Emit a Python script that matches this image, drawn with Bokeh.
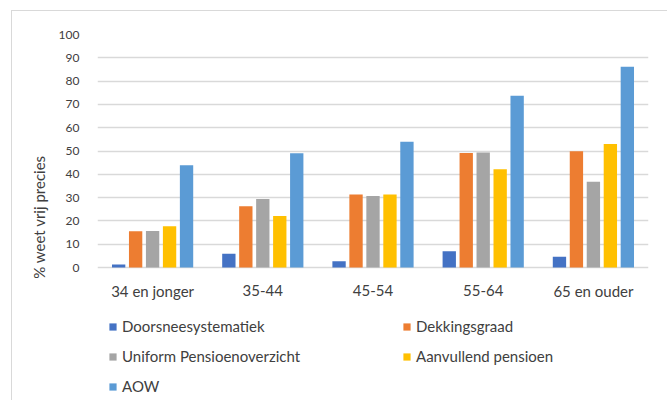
from bokeh.plotting import figure
from bokeh.models import ColumnDataSource, Legend, LegendItem, FixedTicker
from bokeh.core.properties import value
from bokeh.transform import dodge
from bokeh.embed import file_html
from bokeh.resources import INLINE

categories = ["34 en jonger", "35-44", "45-54", "55-64", "65 en ouder"]
series_names = ["Doorsneesystematiek", "Dekkingsgraad", "Uniform Pensioenoverzicht",
                "Aanvullend pensioen", "AOW"]
doorsnee = [1.3, 5.9, 2.7, 7.0, 4.6]
dekkingsgraad = [15.6, 26.3, 31.4, 49.2, 49.9]
uniform = [15.7, 29.4, 30.7, 49.4, 36.8]
aanvullend = [17.7, 22.1, 31.4, 42.2, 53.0]
aow = [43.9, 49.0, 54.0, 73.7, 86.2]
y_ticks = [0, 10, 20, 30, 40, 50, 60, 70, 80, 90, 100]

colors = ["#4472C4", "#ED7D31", "#A5A5A5", "#FFC000", "#5B9BD5"]
keys = ["doorsnee", "dekkingsgraad", "uniform", "aanvullend", "aow"]
offsets = [-0.308, -0.154, 0.0, 0.154, 0.308]

source = ColumnDataSource(dict(cat=categories, doorsnee=doorsnee, dekkingsgraad=dekkingsgraad,
                               uniform=uniform, aanvullend=aanvullend, aow=aow))

FONT = "Lato"
TXT = "#404040"

# the frame extends below zero so that the legend (drawn inside the frame) is not clipped
p = figure(x_range=categories, y_range=(-56.6, 100), width=656, height=390,
           output_backend="svg", toolbar_location=None, x_axis_location=None,
           min_border_left=85, min_border_right=20, min_border_top=23, min_border_bottom=2)
p.margin = (10, 0, 0, 11)
p.styles = {"border-top": "1px solid #d9d9d9", "border-left": "1px solid #d9d9d9"}
p.outline_line_color = None
p.background_fill_color = "white"
p.border_fill_color = "white"

renderers = []
for k, c, off in zip(keys, colors, offsets):
    r = p.vbar(x=dodge("cat", off, range=p.x_range), top=k, width=0.121, bottom=0,
               source=source, fill_color=c, line_color=None)
    renderers.append(r)

# category labels under the zero line
p.text(x="cat", y=0, text="cat", source=source, y_offset=23,
       text_align="center", text_baseline="middle",
       text_font=value(FONT), text_font_size=value("15px"), text_color=TXT)

p.xgrid.grid_line_color = None
p.ygrid.grid_line_color = "#d9d9d9"
p.ygrid.grid_line_width = 1.3
p.yaxis.ticker = FixedTicker(ticks=y_ticks)
p.yaxis.bounds = (0, 100)

p.yaxis.axis_line_color = None
p.yaxis.major_tick_line_color = None
p.yaxis.minor_tick_line_color = None
p.yaxis.major_label_standoff = 12
p.yaxis.major_label_text_font = FONT
p.yaxis.major_label_text_font_size = "12px"
p.yaxis.major_label_text_color = TXT
p.yaxis.axis_label = "% weet vrij precies"
p.yaxis.axis_label_text_font = FONT
p.yaxis.axis_label_text_font_size = "15px"
p.yaxis.axis_label_text_font_style = "normal"
p.yaxis.axis_label_text_color = TXT
p.yaxis.axis_label_standoff = 8

def make_legend(idx, loc):
    items = [LegendItem(label=series_names[i], renderers=[renderers[i]]) for i in idx]
    lg = Legend(items=items, location=loc, orientation="vertical")
    lg.glyph_width = 9
    lg.glyph_height = 9
    lg.label_standoff = 5
    lg.label_height = 20
    lg.spacing = 10
    lg.padding = 0
    lg.margin = 0
    lg.border_line_color = None
    lg.background_fill_alpha = 0
    lg.label_text_font = FONT
    lg.label_text_font_size = "15px"
    lg.label_text_color = TXT
    lg.label_text_baseline = "middle"
    return lg

p.add_layout(make_legend([0, 2, 4], (11, 3)), "center")
p.add_layout(make_legend([1, 3], (305, 33)), "center")

open("out.html", "w").write(file_html(p, INLINE))
